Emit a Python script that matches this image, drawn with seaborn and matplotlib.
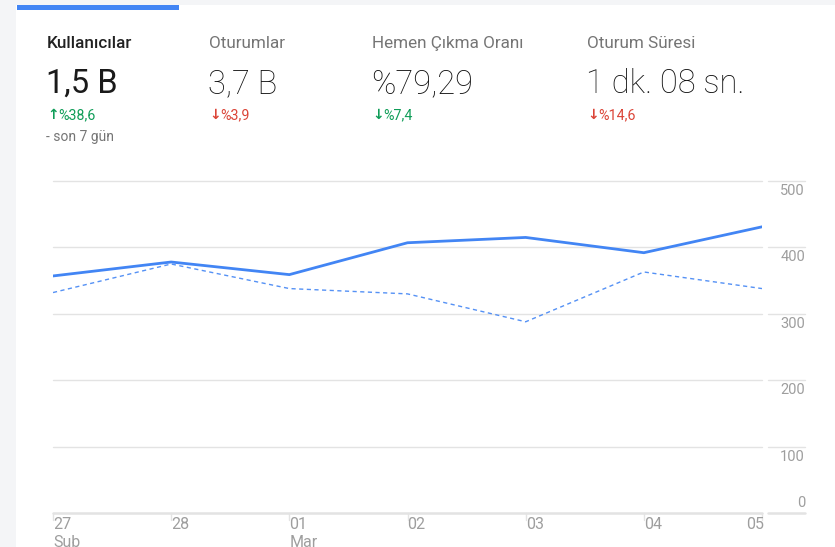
import matplotlib.pyplot as plt
import matplotlib.patches as mpatches
import pandas as pd
import seaborn as sns

# data
days = ['27', '28', '01', '02', '03', '04', '05']
months = ['Şub', '', 'Mar', '', '', '', '']
users_now = [357, 378, 359, 407, 415, 392, 431]
users_prev = [332, 375, 338, 330, 288, 363, 338]
y_ticks = [0, 100, 200, 300, 400, 500]

metric_names = ['Kullanıcılar', 'Oturumlar', 'Hemen Çıkma Oranı', 'Oturum Süresi']
metric_values = ['1,5 B', '3,7 B', '%79,29', '1 dk. 08 sn.']
metric_arrows = ['↑', '↓', '↓', '↓']
metric_changes = ['%38,6', '%3,9', '%7,4', '%14,6']
change_good = [True, False, True, False]

W, H = 835, 547
BLUE = '#4285f4'
GREEN = '#0f9d58'
RED = '#db4437'

sns.set_theme(style='white')
plt.rcParams['font.family'] = ['Roboto', 'DejaVu Sans']

fig = plt.figure(figsize=(W / 100, H / 100), dpi=100)
fig.patch.set_facecolor('#f4f5f7')


def px(x, y):
    return x / W, 1 - y / H


# white card + blue tab marker (behind everything)
fig.patches.append(mpatches.Rectangle(px(16, H), (W - 16) / W, (H - 5) / H,
                                      transform=fig.transFigure, facecolor='white',
                                      edgecolor='none', zorder=-10))
fig.patches.append(mpatches.Rectangle(px(17, 10), 162 / W, 5 / H,
                                      transform=fig.transFigure, facecolor=BLUE,
                                      edgecolor='none', zorder=-9))

# metric header
col_x = [47, 209, 372, 587]
for i, x in enumerate(col_x):
    first = i == 0
    c = GREEN if change_good[i] else RED
    fig.text(*px(x, 48), metric_names[i], fontsize=12.3,
             color='#212121' if first else '#757575',
             fontweight='medium' if first else 'normal', va='baseline')
    fig.text(*px(x - 1, 93), metric_values[i], fontsize=23.5,
             color='#1a1a1a' if first else '#111111',
             fontweight='normal' if first else 'light', va='baseline')
    fig.text(*px(x, 119), metric_arrows[i], fontsize=10, color=c,
             fontweight='bold', family='DejaVu Sans', va='baseline')
    fig.text(*px(x + 11, 119), metric_changes[i], fontsize=10.3, color=c,
             va='baseline')
fig.text(*px(46, 141), '- son 7 gün', fontsize=10, color='#757575', va='baseline')

# chart
left, right, top, bottom = 53, 762, 181, 513
ax = fig.add_axes([left / W, 1 - bottom / H, (right - left) / W, (bottom - top) / H])
ax.set_facecolor('none')

df = pd.DataFrame({'x': range(len(days)), 'now': users_now, 'prev': users_prev})
sns.lineplot(data=df, x='x', y='now', ax=ax, color=BLUE, linewidth=2.0, zorder=3)
sns.lineplot(data=df, x='x', y='prev', ax=ax, color=BLUE, linewidth=1.0,
             linestyle=(0, (3, 2.5)), zorder=3, alpha=0.9)

ax.set_xlim(0, len(days) - 1)
ax.set_ylim(0, 500)
for s in ax.spines.values():
    s.set_visible(False)
ax.set_xticks([])
ax.set_yticks([])
ax.set_xlabel('')
ax.set_ylabel('')

ytr = ax.get_yaxis_transform()
ext0 = (768 - left) / (right - left)
ext1 = (805 - left) / (right - left)
for v in y_ticks:
    lw = 1.8 if v == 0 else 1.0
    ax.axhline(v, color='#e3e3e3', linewidth=lw, zorder=1, clip_on=False)
    ax.plot([ext0, ext1], [v, v], transform=ytr, color='#e3e3e3',
            linewidth=lw, clip_on=False)
    off = 15 if v == 0 else -15
    ax.text(ext1, v + off, str(v), transform=ytr, ha='right', va='center',
            fontsize=10.5, color='#9e9e9e')

xtr = ax.get_xaxis_transform()
narrow = ['Liberation Sans Narrow', 'Roboto', 'DejaVu Sans']
for i, d in enumerate(days):
    ax.plot([i, i], [0, -7 / (bottom - top)], transform=xtr, color='#e3e3e3',
            linewidth=1.0, clip_on=False)
    ha = 'right' if i == len(days) - 1 else 'left'
    xo = i + (0.02 if i == len(days) - 1 else 0)
    ax.text(xo, -4 / (bottom - top), d, transform=xtr, ha=ha, va='top',
            fontsize=11.5, color='#9e9e9e', family=narrow)
    if months[i]:
        ax.text(i, -22 / (bottom - top), months[i], transform=xtr, ha='left', va='top',
                fontsize=11.5, color='#9e9e9e', family=narrow)

fig.savefig('out.png', dpi=100, facecolor=fig.get_facecolor())
